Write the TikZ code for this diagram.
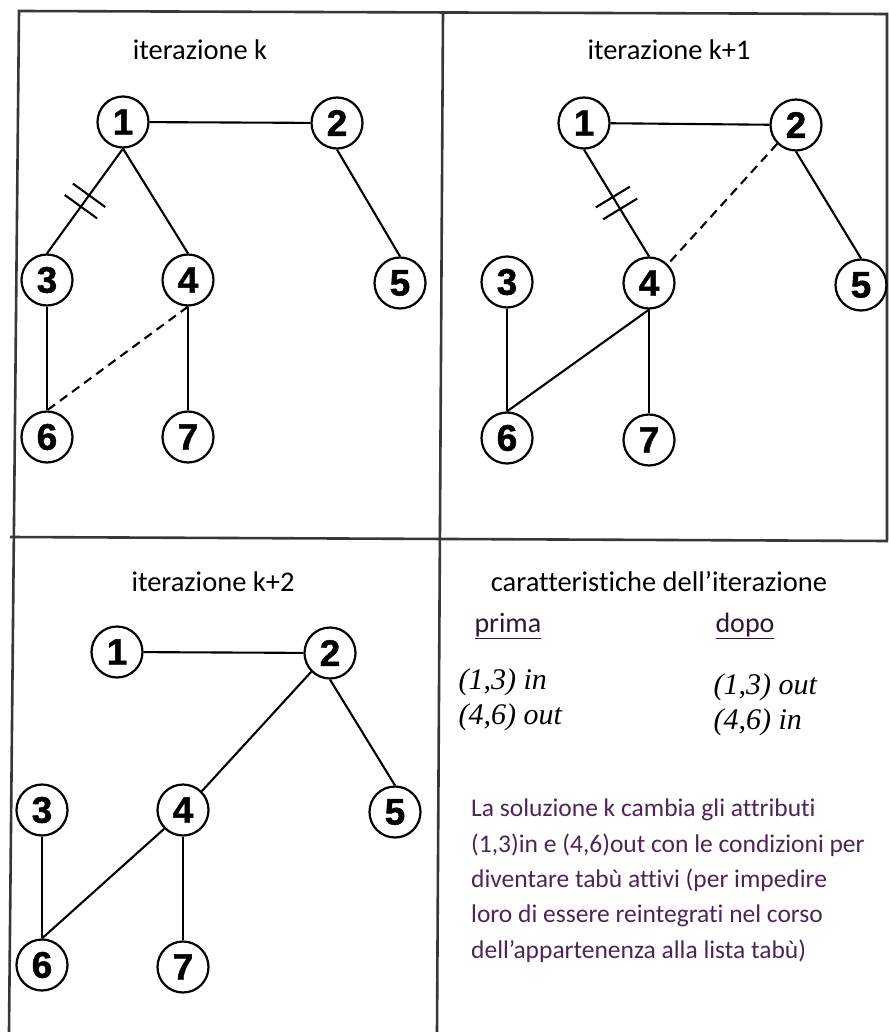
\documentclass[tikz,border=0pt]{standalone}
\usepackage{fontspec}
\setmainfont{Carlito}[Ligatures=NoCommon]
\newfontfamily\numfont{Liberation Sans}[BoldFeatures={FakeBold=1.2}]
\newfontfamily\timesfont{Liberation Serif}
\usepackage{tikz}
\usetikzlibrary{calc,decorations.markings,positioning}
\definecolor{textpurple}{RGB}{78,36,88}
\definecolor{framegray}{RGB}{55,55,55}
\tikzset{
    every node/.style={font=\fontsize{28}{30}\selectfont},
    main node/.style={circle,draw,line width=2.2pt,minimum size=51pt,inner sep=0pt,font=\numfont\bfseries\fontsize{37}{37}\selectfont},
    title/.style={font=\fontsize{28.5}{30}\selectfont},
    edge/.style={line width=2.1pt},
    tabu/.style={postaction={decorate},decoration={markings,mark=at position 0.5 with {\draw[line width=2.1pt] (-7pt,-20pt) -- (-7pt,20pt) (7pt,-20pt) -- (7pt,20pt);}}},
    attr/.style={anchor=west,font=\timesfont\itshape\fontsize{30}{30}\selectfont},
    head/.style={anchor=west,text=textpurple!60!black,font=\fontsize{28}{30}\selectfont}
}

\begin{document}
\begin{tikzpicture}[x=1pt,y=-1pt]
    \useasboundingbox (0,0) rectangle (888,1032);

    % frame
    \draw[framegray,line width=2.6pt] (9,1032) -- (19,11) -- (887,14) -- (887,540);
    \draw[framegray,line width=2.6pt] (10,537) -- (888,541);
    \draw[framegray,line width=2.6pt] (443,12) -- (437,1032);

    % iterazione k
    \node[title] (t1) at (200,50) {iterazione k};
    \node[main node] (a1) at (123,122) {1};
    \node[main node] (a2) at (337,123) {2};
    \node[main node] (a3) at (47,280) {3};
    \node[main node] (a4) at (188,280) {4};
    \node[main node] (a5) at (400,283) {5};
    \node[main node] (a6) at (47,437) {6};
    \node[main node] (a7) at (188,437) {7};
    \draw[edge] (a1) -- (a2);
    \draw[edge,tabu] (a1.south) -- (a3.north);
    \draw[edge] (a1.south) -- (a4.north);
    \draw[edge] (a2.south) -- (a5.north);
    \draw[edge] (a3) -- (a6);
    \draw[edge] (a4) -- (a7);
    \draw[edge,dash pattern=on 9pt off 6pt] (a4.south) -- (a6.north);

    % iterazione k+1
    \node[title] (t2) at (669,50) {iterazione k+1};
    \node[main node] (b1) at (584,123) {1};
    \node[main node] (b2) at (796,125) {2};
    \node[main node] (b3) at (507,282) {3};
    \node[main node] (b4) at (649,283) {4};
    \node[main node] (b5) at (861,285) {5};
    \node[main node] (b6) at (507,438) {6};
    \node[main node] (b7) at (649,440) {7};
    \draw[edge] (b1) -- (b2);
    \draw[edge,tabu] (b1.south) -- (b4.north);
    \draw[edge,dash pattern=on 9pt off 6pt] (b2.south west) -- (b4.north east);
    \draw[edge] (b2.south) -- (b5.north);
    \draw[edge] (b3) -- (b6);
    \draw[edge] (b4.south) -- (b6.north);
    \draw[edge] (b4) -- (b7);

    % iterazione k+2
    \node[title] (t3) at (213,582) {iterazione k+2};
    \node[main node] (c1) at (117,652) {1};
    \node[main node] (c2) at (330,653) {2};
    \node[main node] (c3) at (42,810) {3};
    \node[main node] (c4) at (183,810) {4};
    \node[main node] (c5) at (395,812) {5};
    \node[main node] (c6) at (42,965) {6};
    \node[main node] (c7) at (183,967) {7};
    \draw[edge] (c1) -- (c2);
    \draw[edge] (c2.south west) -- (c4.north east);
    \draw[edge] (c2.south) -- (c5.north);
    \draw[edge] (c3) -- (c6);
    \draw[edge] (c4.south west) -- (c6.north);
    \draw[edge] (c4) -- (c7);

    % caratteristiche
    \node[title] (t4) at (659,582) {caratteristiche dell’iterazione};
    \node[head] (prima) at (471,626) {\underline{prima}};
    \node[head] (dopo) at (712,626) {\underline{dopo}};
    \node[attr] (p1) at (455,682) {(1,3) in};
    \node[attr] (p2) at (455,717) {(4,6) out};
    \node[attr] (d1) at (710,687) {(1,3) out};
    \node[attr] (d2) at (710,722) {(4,6) in};
    \node[anchor=north west,align=left,inner sep=0pt,text=textpurple,font=\fontsize{25.5}{35.3}\selectfont] (nota) at (471,799)
        {La soluzione k cambia gli attributi\\
         (1,3)in e (4,6)out con le condizioni per\\
         diventare tabù attivi (per impedire\\
         loro di essere reintegrati nel corso\\
         dell’appartenenza alla lista tabù)};
\end{tikzpicture}
\end{document}
